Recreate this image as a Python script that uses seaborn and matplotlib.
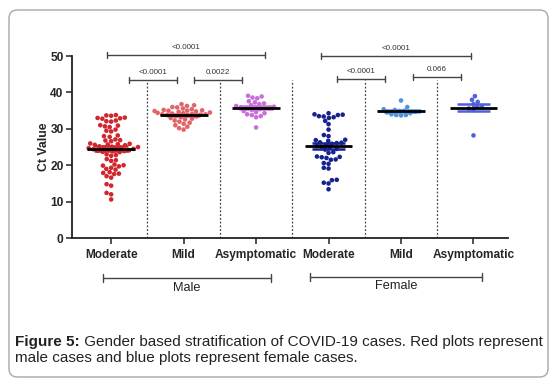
import matplotlib
matplotlib.use("Agg")
import pandas as pd
import matplotlib.pyplot as plt
import seaborn as sns
from matplotlib.patches import FancyBboxPatch

# Ct values, one list per group
male_moderate = [33.8, 33.7, 33.6, 33.1, 33.0, 32.9, 32.8, 32.3, 32.1, 32.0,
                 31.0, 30.9, 30.7, 30.5, 29.8, 29.5, 29.3, 28.2, 28.0, 27.8,
                 27.1, 26.9, 26.8, 26.6, 26.0, 25.9, 25.8, 25.7, 25.6, 25.5,
                 25.2, 25.1, 25.0, 24.9, 24.8, 24.7, 24.6, 24.5, 24.4, 24.3,
                 24.1, 24.0, 23.9, 23.8, 23.7, 23.6, 23.0, 22.8, 22.6, 21.7,
                 21.4, 21.2, 20.2, 20.0, 19.9, 19.7, 19.3, 19.0, 18.8, 18.1,
                 17.9, 17.7, 17.6, 17.0, 16.6, 14.8, 14.4, 12.4, 12.0, 10.6]
male_mild = [36.8, 36.5, 36.3, 36.0, 35.9, 35.6, 35.4, 35.2, 35.1, 35.0,
             35.0, 34.9, 34.8, 34.7, 34.5, 34.4, 34.3, 34.2, 34.1, 34.0,
             34.0, 33.9, 33.8, 33.7, 33.5, 33.4, 33.2, 33.0, 32.8, 32.6,
             32.3, 32.0, 31.7, 31.4, 31.0, 30.6, 30.2, 29.8]
male_asymptomatic = [39.1, 38.9, 38.6, 38.4, 37.6, 37.3, 37.0, 36.8, 36.5,
                     36.3, 36.1, 36.0, 35.9, 35.8, 35.7, 35.6, 35.4, 35.2,
                     34.9, 34.6, 34.3, 34.0, 33.8, 33.5, 33.2, 30.4]
female_moderate = [34.3, 34.0, 33.9, 33.8, 33.5, 33.4, 33.2, 33.0, 32.2,
                   31.3, 29.8, 28.3, 28.0, 27.0, 26.9, 26.7, 26.3, 26.2,
                   26.1, 25.9, 25.6, 25.3, 25.1, 24.8, 24.5, 24.3, 23.6,
                   23.4, 22.4, 22.3, 22.2, 22.0, 21.6, 21.5, 20.6, 20.4,
                   19.3, 19.1, 16.0, 15.9, 15.2, 15.0, 13.4]
female_mild = [37.8, 36.0, 35.4, 35.2, 35.0, 34.9, 34.8, 34.7, 34.5, 34.3,
               34.0, 33.8, 33.8, 33.7]
female_asymptomatic = [39.0, 38.0, 37.4, 36.8, 36.3, 36.0, 35.6, 35.2, 28.2]

groups = ["M-Moderate", "M-Mild", "M-Asymptomatic",
          "F-Moderate", "F-Mild", "F-Asymptomatic"]
tick_labels = ["Moderate", "Mild", "Asymptomatic",
               "Moderate", "Mild", "Asymptomatic"]
colors = ["#d0262d", "#e2646b", "#c96fd8", "#16228f", "#4f93dc", "#5060da"]
values = [male_moderate, male_mild, male_asymptomatic,
          female_moderate, female_mild, female_asymptomatic]

# p values of the pairwise comparisons
male_pvals = ["<0.0001", "<0.0001", "0.0022"]
female_pvals = ["<0.0001", "<0.0001", "0.066"]

df = pd.DataFrame({
    "group": [g for g, v in zip(groups, values) for _ in v],
    "ct": [x for v in values for x in v],
})

sns.set_style("ticks")
plt.rcParams["font.family"] = ["Liberation Sans", "DejaVu Sans"]

fig = plt.figure(figsize=(5.6, 3.87), dpi=100)
ax = fig.add_axes([0.1286, 0.385, 0.779, 0.470])

sns.swarmplot(data=df, x="group", y="ct", hue="group", order=groups,
              palette=dict(zip(groups, colors)), size=3.3, legend=False,
              ax=ax, zorder=3)

# mean (black) and SEM (group colour)
stats = df.groupby("group")["ct"].agg(["mean", "sem"]).reindex(groups)
for i, (g, col) in enumerate(zip(groups, colors)):
    m, s = stats.loc[g, "mean"], stats.loc[g, "sem"]
    ax.hlines([m - s, m + s], i - 0.23, i + 0.23, color=col, lw=1.8, zorder=4)
    ax.vlines(i, m - s, m + s, color=col, lw=1.8, zorder=4)
    ax.hlines(m, i - 0.33, i + 0.33, color="black", lw=2.0, zorder=5)

# dotted separators between groups
for x in [0.5, 1.5, 2.5, 3.5, 4.5]:
    ax.vlines(x, 0, 43.3, color="#444444", ls=(0, (1.5, 1.5)), lw=0.9, zorder=1)

ax.set_xlim(-0.54, 5.48)
ax.set_ylim(0, 50)
ax.set_yticks([0, 10, 20, 30, 40, 50])
ax.set_xticks(range(len(groups)))
ax.set_xticklabels(tick_labels, fontsize=8.6, fontweight="bold")
ax.set_yticklabels([0, 10, 20, 30, 40, 50], fontsize=8.6, fontweight="bold")
ax.set_xlabel("")
ax.set_ylabel("Ct Value", fontsize=8.8, fontweight="bold", labelpad=0)
ax.tick_params(axis="both", length=4, width=1.1, color="#222222", pad=2)
ax.tick_params(axis="x", pad=4)
for side in ["top", "right"]:
    ax.spines[side].set_visible(False)
for side in ["left", "bottom"]:
    ax.spines[side].set_linewidth(1.3)
    ax.spines[side].set_color("#222222")


def bracket(x0, x1, y, label, cap=0.8):
    ax.plot([x0, x1], [y, y], color="#444444", lw=1.0, clip_on=False)
    for x in (x0, x1):
        ax.plot([x, x], [y - cap, y + cap], color="#444444", lw=1.0,
                clip_on=False)
    ax.text((x0 + x1) / 2, y + 1.0, label, ha="center", va="bottom",
            fontsize=5.8, color="#333333", clip_on=False)


bracket(-0.06, 2.13, 50.4, male_pvals[0])
bracket(0.25, 0.91, 43.4, male_pvals[1])
bracket(1.15, 1.81, 43.4, male_pvals[2])
bracket(2.89, 4.96, 50.0, female_pvals[0])
bracket(3.11, 3.78, 43.7, female_pvals[1])
bracket(4.17, 4.83, 44.3, female_pvals[2])

# sex brackets under the axis
tr = ax.get_xaxis_transform()
for x0, x1, y, ty, name in [(-0.11, 2.21, -0.22, -0.275, "Male"),
                            (2.75, 5.12, -0.215, -0.262, "Female")]:
    ax.plot([x0, x1], [y, y], color="#444444", lw=1.0, transform=tr,
            clip_on=False)
    for x in (x0, x1):
        ax.plot([x, x], [y - 0.02, y + 0.02], color="#444444", lw=1.0,
                transform=tr, clip_on=False)
    ax.text((x0 + x1) / 2, ty, name, transform=tr, ha="center",
            va="center", fontsize=9.2, color="#222222")

# caption
y1 = 1 - 346 / 387
bold = fig.text(15 / 560, y1, "Figure 5:", fontsize=11, fontweight="bold",
                va="baseline", color="#222222")
fig.text(15 / 560, y1 - 16 / 387, "male cases and blue plots represent female cases.",
         fontsize=11, va="baseline", color="#222222")
ax.annotate(" Gender based stratification of COVID-19 cases. Red plots represent",
            xy=(1, 0), xycoords=bold, va="bottom", ha="left", fontsize=11,
            color="#222222", annotation_clip=False)

# rounded frame round the whole figure
fig.patches.append(FancyBboxPatch((9 / 560, 10 / 387), 539 / 560, 367 / 387,
                                  boxstyle="round,pad=0,rounding_size=0.015",
                                  transform=fig.transFigure, fill=False,
                                  ec="#a8a8a8", lw=1.0, mutation_aspect=1.45))

fig.savefig("out.png", dpi=100)
